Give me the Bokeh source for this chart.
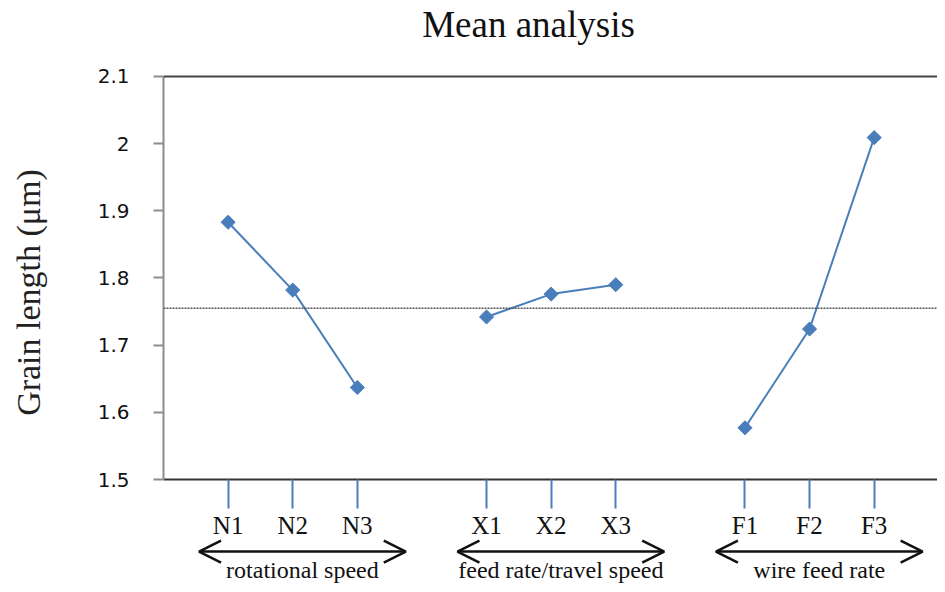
from bokeh.plotting import figure
from bokeh.models import (Range1d, FixedTicker, Span, Arrow, OpenHead, Label, LinearAxis)
from bokeh.embed import file_html
from bokeh.resources import INLINE

# ---- data ----
groups = ["rotational speed", "feed rate/travel speed", "wire feed rate"]
levels = [["N1", "N2", "N3"], ["X1", "X2", "X3"], ["F1", "F2", "F3"]]
means = [[1.883, 1.782, 1.637], [1.742, 1.776, 1.790], [1.577, 1.724, 2.009]]
grand_mean = 1.755
y_ticks = [1.5, 1.6, 1.7, 1.8, 1.9, 2.0, 2.1]
y_tick_labels = ["1.5", "1.6", "1.7", "1.8", "1.9", "2", "2.1"]
title_text = "Mean analysis"
y_label = "Grain length (\u03bcm)"

BLUE = "#4A7EBB"
SERIF = "Liberation Serif"
INK = "#111111"

y_min, y_max = y_ticks[0], y_ticks[-1]

# positions of the levels: each group of three, with a one-slot gap between groups
group_step = 4
x_pos = [[g * group_step + i for i in range(len(lv))] for g, lv in enumerate(levels)]

p = figure(width=937, height=584, output_backend="svg", toolbar_location=None,
           x_range=Range1d(-1, 10.98), y_range=Range1d(1.3437, 2.2131),
           x_axis_location=None,
           min_border_left=163, min_border_right=0, min_border_top=0, min_border_bottom=0)
p.outline_line_color = None
p.grid.visible = False
p.background_fill_color = "white"
p.border_fill_color = "white"

# title
p.add_layout(Label(x=4.65, y=2.1774, text=title_text, text_align="center",
                   text_baseline="middle", text_font=SERIF, text_font_size="37px",
                   text_color=INK))

# top frame line
p.add_layout(Span(location=y_max, dimension="width", line_color="#444444", line_width=2))
# grand mean dotted line
p.add_layout(Span(location=grand_mean, dimension="width", line_color="#555555",
                  line_width=1.5, line_dash="2 1"))

for xs, ys in zip(x_pos, means):
    p.line(xs, ys, line_color=BLUE, line_width=2)
    p.scatter(xs, ys, marker="square", angle=0.785398, size=10,
              fill_color=BLUE, line_color=BLUE)

# y axis
ya = p.yaxis[0]
ya.bounds = (y_min, y_max)
ya.ticker = FixedTicker(ticks=y_ticks)
ya.major_label_overrides = {t: l for t, l in zip(y_ticks, y_tick_labels)}
ya.axis_label = y_label
ya.axis_label_text_font = SERIF
ya.axis_label_text_font_size = "34px"
ya.axis_label_text_font_style = "normal"
ya.axis_label_text_color = "#222222"
ya.axis_label_standoff = 48
ya.major_label_text_font = "DejaVu Sans"
ya.major_label_text_font_size = "20px"
ya.major_label_text_color = INK
ya.major_label_standoff = 24
ya.axis_line_color = "#8c8c8c"
ya.axis_line_width = 2
ya.major_tick_line_color = "#8c8c8c"
ya.major_tick_line_width = 2
ya.major_tick_out = 10
ya.major_tick_in = 0
ya.minor_tick_line_color = None

# x axis, fixed at the bottom of the value range
flat_pos = [x for xs in x_pos for x in xs]
flat_lab = [l for lv in levels for l in lv]
xa = LinearAxis(fixed_location=y_min)
xa.ticker = FixedTicker(ticks=flat_pos)
xa.major_label_overrides = {x: l for x, l in zip(flat_pos, flat_lab)}
xa.major_label_text_font = SERIF
xa.major_label_text_font_size = "25px"
xa.major_label_text_color = INK
xa.major_label_standoff = 3
xa.axis_line_color = "#333333"
xa.axis_line_width = 2
xa.major_tick_line_color = BLUE
xa.major_tick_line_width = 2
xa.major_tick_out = 29
xa.major_tick_in = 0
xa.minor_tick_line_color = None
p.add_layout(xa, "below")

# group arrows and names below the axis
arrow_y = 1.3928
name_y = 1.3660
for xs, name in zip(x_pos, groups):
    x0 = xs[0] - 0.45
    x1 = xs[-1] + 0.75
    p.add_layout(Arrow(x_start=x0, y_start=arrow_y, x_end=x1, y_end=arrow_y,
                       line_color=INK, line_width=2.5,
                       start=OpenHead(size=22, line_width=2.5, line_color=INK),
                       end=OpenHead(size=22, line_width=2.5, line_color=INK)))
    p.add_layout(Label(x=(x0 + x1) / 2, y=name_y, text=name, text_align="center",
                       text_baseline="middle", text_font=SERIF, text_font_size="24px",
                       text_color=INK))

open("out.html", "w").write(file_html(p, INLINE))
